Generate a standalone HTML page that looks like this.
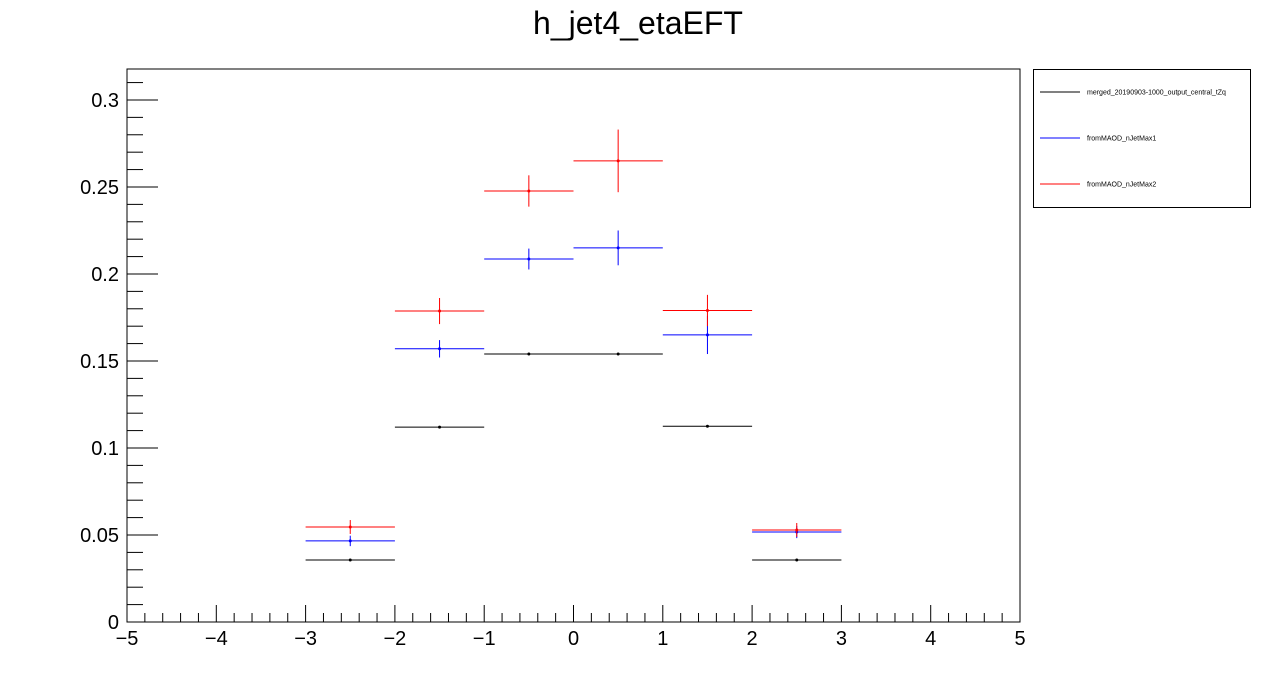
<!DOCTYPE html>
<html><head><meta charset="utf-8"><style>
body{margin:0;background:#fff;}
svg{display:block;font-family:"Liberation Sans",sans-serif;}
</style></head><body>
<svg id="c" width="1276" height="692" viewBox="0 0 1276 692">
<text x="638" y="34" text-anchor="middle" font-size="32">h_jet4_etaEFT</text>
<rect x="127" y="69" width="893" height="553" fill="none" stroke="#000" stroke-width="1"/>
<g id="axes"></g>
<g id="series"></g>
<g>
<rect x="1033.5" y="69.5" width="217" height="138" fill="#fff" stroke="#000"/>
<line x1="1040" y1="92" x2="1080" y2="92" stroke="#000"/>
<text x="1087" y="94.5" font-size="7">merged_20190903-1000_output_central_tZq</text>
<line x1="1040" y1="138" x2="1080" y2="138" stroke="#00f"/>
<text x="1087" y="140.5" font-size="7">fromMAOD_nJetMax1</text>
<line x1="1040" y1="184" x2="1080" y2="184" stroke="#f00"/>
<text x="1087" y="186.5" font-size="7">fromMAOD_nJetMax2</text>
</g>
</svg>
<script>
const binCenters=[-2.5,-1.5,-0.5,0.5,1.5,2.5];
const blackVals=[0.0356,0.112,0.154,0.154,0.1125,0.0356];
const blackErrs=[0.0005,0.0005,0.0005,0.0005,0.0005,0.0005];
const blueVals=[0.0466,0.157,0.2086,0.215,0.165,0.0517];
const blueErrs=[0.003,0.005,0.006,0.01,0.011,0.0035];
const redVals=[0.0546,0.1787,0.2477,0.265,0.179,0.0529];
const redErrs=[0.004,0.0075,0.009,0.018,0.009,0.004];
const xTicks=[-5,-4,-3,-2,-1,0,1,2,3,4,5];
const yTicks=[0,0.05,0.1,0.15,0.2,0.25,0.3];
const yTickLabels=["0","0.05","0.1","0.15","0.2","0.25","0.3"];
const xMin=-5,xMax=5,yMin=0,yMax=0.3178;
const L=127,R=1020,T=69,B=622;
const sx=v=>L+(v-xMin)/(xMax-xMin)*(R-L);
const sy=v=>B-(v-yMin)/(yMax-yMin)*(B-T);
const NS="http://www.w3.org/2000/svg";
function mk(tag,attrs,parent){const e=document.createElementNS(NS,tag);for(const k in attrs)e.setAttribute(k,attrs[k]);parent.appendChild(e);return e;}
const ax=document.getElementById('axes');
// x ticks
for(let i=0;i<=50;i++){const v=xMin+i*0.2;const major=Math.abs(v-Math.round(v))<1e-6;
const t=mk('line',{x1:sx(v),x2:sx(v),y1:B,y2:B-(major?17:9),stroke:'#000'},ax);

}
xTicks.forEach(v=>{const t=mk('text',{x:sx(v),y:645,'text-anchor':'middle','font-size':20},ax);t.textContent=(v<0?'\u2212'+(-v):v);

});
// y ticks
for(let v=0;v<=yMax+1e-9;v+=0.01){const major=Math.abs(v/0.05-Math.round(v/0.05))<1e-6;
const t=mk('line',{x1:L,x2:L+(major?31:16),y1:sy(v),y2:sy(v),stroke:'#000'},ax);

}
yTicks.forEach((v,i)=>{const t=mk('text',{x:119,y:sy(v)+7,'text-anchor':'end','font-size':20},ax);t.textContent=yTickLabels[i];

});
const sg=document.getElementById('series');
function draw(vals,errs,col,name){const g=mk('g',{},sg);


vals.forEach((v,i)=>{const c=binCenters[i];
mk('line',{x1:sx(c-0.5),x2:sx(c+0.5),y1:sy(v),y2:sy(v),stroke:col},g);
mk('line',{x1:sx(c),x2:sx(c),y1:sy(v+errs[i]),y2:sy(v-errs[i]),stroke:col},g);
const p=mk('circle',{cx:sx(c),cy:sy(v),r:1.5,fill:col},g);

});}
draw(blackVals,blackErrs,'#000','series-merged');
draw(blueVals,blueErrs,'#00f','series-njetmax1');
draw(redVals,redErrs,'#f00','series-njetmax2');
</script>
</body></html>
